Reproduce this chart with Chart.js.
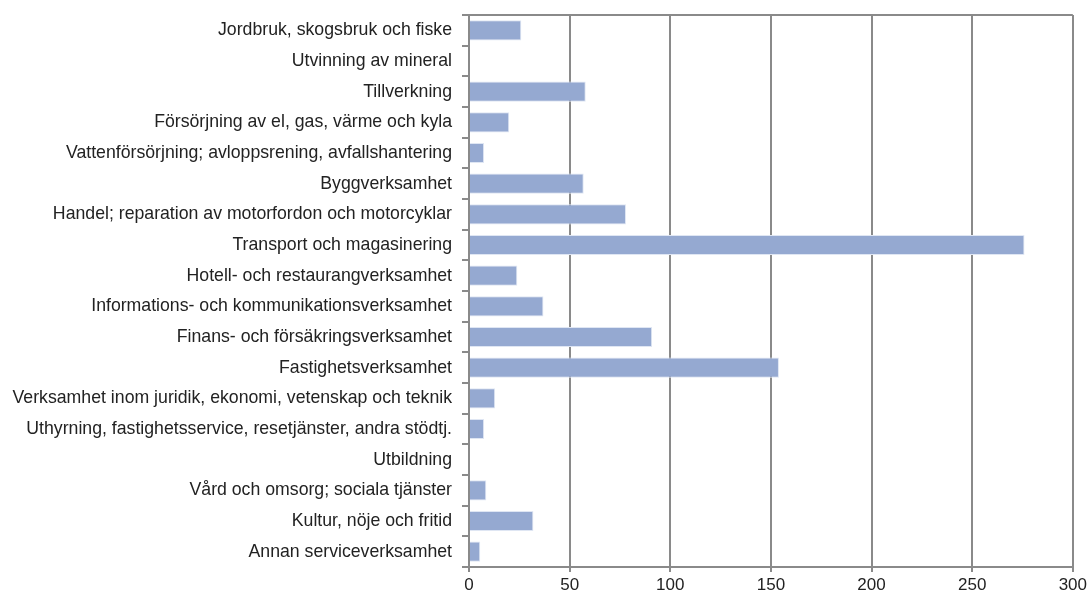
<!DOCTYPE html>
<html>
<head>
<meta charset="utf-8">
<script src="https://cdn.jsdelivr.net/npm/chart.js@4"></script>
<style>
html,body{margin:0;padding:0;background:#fff;}
#wrap{width:1090px;height:597px;position:relative;}
</style>
</head>
<body>
<div id="wrap"><canvas id="c"></canvas></div>
<script>
const categories = [
  "Jordbruk, skogsbruk och fiske",
  "Utvinning av mineral",
  "Tillverkning",
  "Försörjning av el, gas, värme och kyla",
  "Vattenförsörjning; avloppsrening, avfallshantering",
  "Byggverksamhet",
  "Handel; reparation av motorfordon och motorcyklar",
  "Transport och magasinering",
  "Hotell- och restaurangverksamhet",
  "Informations- och kommunikationsverksamhet",
  "Finans- och försäkringsverksamhet",
  "Fastighetsverksamhet",
  "Verksamhet inom juridik, ekonomi, vetenskap och teknik",
  "Uthyrning, fastighetsservice, resetjänster, andra stödtj.",
  "Utbildning",
  "Vård och omsorg; sociala tjänster",
  "Kultur, nöje och fritid",
  "Annan serviceverksamhet"
];
const values = [26, 0, 58, 20, 7.5, 57, 78, 276, 24, 37, 91, 154, 13, 7.5, 0, 8.6, 32, 5.6];
const xMin = 0, xMax = 300, xStep = 50;

const gray = '#8a8a8a';
new Chart(document.getElementById('c'), {
  type: 'bar',
  data: {
    labels: categories,
    datasets: [{
      data: values,
      backgroundColor: '#95a9d1',
      borderColor: '#dfe6f3',
      borderWidth: 1,
      barPercentage: 0.66,
      categoryPercentage: 1.0
    }]
  },
  options: {
    indexAxis: 'y',
    responsive: true,
    maintainAspectRatio: false,
    animation: false,
    devicePixelRatio: 1,
    layout: { padding: { left: 0, right: 3, top: 15, bottom: 0 } },
    plugins: { legend: { display: false }, tooltip: { enabled: false } },
    scales: {
      x: {
        min: xMin, max: xMax,
        ticks: { stepSize: xStep, color: '#222', font: { family: 'Liberation Sans, Arial, sans-serif', size: 17 }, padding: 3 },
        grid: { color: gray, lineWidth: 2, tickLength: 5, tickColor: gray },
        border: { color: gray, width: 2 },
        afterFit: (s) => { s.height = 30; }
      },
      y: {
        ticks: { color: '#222', font: { family: 'Liberation Sans, Arial, sans-serif', size: 17.7 }, padding: 10, autoSkip: false },
        grid: {
          offset: true,
          color: (ctx) => ctx.index === 0 ? gray : 'rgba(0,0,0,0)',
          tickColor: gray,
          lineWidth: 2,
          tickLength: 7
        },
        border: { color: gray, width: 2 },
        afterFit: (s) => { s.width = 469; s.paddingTop = 0; s.paddingBottom = 0; }
      }
    }
  }
});
</script>
</body>
</html>
